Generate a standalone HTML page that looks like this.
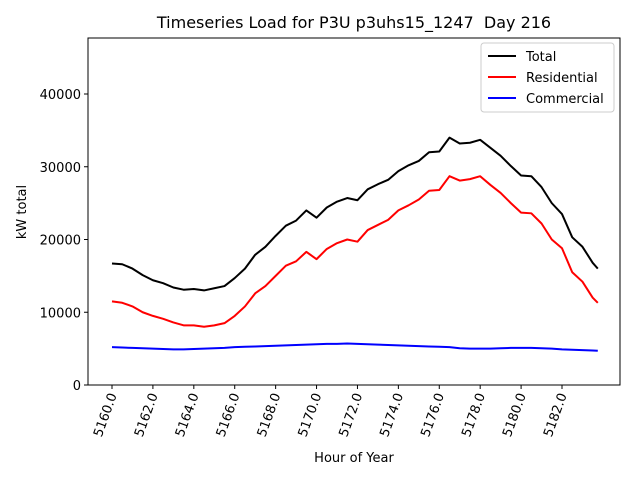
<!DOCTYPE html>
<html><head><meta charset="utf-8"><style>
body{margin:0;background:#fff}
svg{font-family:"DejaVu Sans","Liberation Sans",sans-serif}
</style></head><body>
<svg id="chart" width="640" height="480" xmlns="http://www.w3.org/2000/svg">
<rect width="640" height="480" fill="#fff"/>
<text x="354" y="28" font-size="16" text-anchor="middle">Timeseries Load for P3U p3uhs15_1247 &#160;Day 216</text>
<g id="plot"></g>
<rect x="88" y="38" width="532" height="347" fill="none" stroke="#000" stroke-width="1"/>
<text x="354" y="462" font-size="13" text-anchor="middle">Hour of Year</text>
<text transform="translate(26,212) rotate(-90)" font-size="13" text-anchor="middle">kW total</text>
<g>
<rect x="481" y="43" width="133" height="69" fill="#fff" stroke="#ccc" rx="3"/>
<line x1="488" y1="56" x2="516" y2="56" stroke="#000" stroke-width="2"/>
<text x="526" y="61" font-size="13">Total</text>
<line x1="488" y1="77" x2="516" y2="77" stroke="#f00" stroke-width="2"/>
<text x="526" y="82" font-size="13">Residential</text>
<line x1="488" y1="98" x2="516" y2="98" stroke="#00f" stroke-width="2"/>
<text x="526" y="103" font-size="13">Commercial</text>
</g>
</svg>
<script>
const hours=[5160,5160.5,5161,5161.5,5162,5162.5,5163,5163.5,5164,5164.5,5165,5165.5,5166,5166.5,5167,5167.5,5168,5168.5,5169,5169.5,5170,5170.5,5171,5171.5,5172,5172.5,5173,5173.5,5174,5174.5,5175,5175.5,5176,5176.5,5177,5177.5,5178,5178.5,5179,5179.5,5180,5180.5,5181,5181.5,5182,5182.5,5183,5183.5,5183.75];
const residential=[11500,11300,10800,10000,9500,9100,8600,8200,8200,8000,8200,8500,9500,10800,12600,13600,15000,16400,17000,18300,17300,18700,19500,20000,19700,21300,22000,22700,24000,24700,25500,26700,26800,28700,28100,28300,28700,27500,26400,25000,23700,23600,22200,20000,18800,15500,14200,12000,11300];
const commercial=[5200,5150,5100,5050,5000,4950,4900,4900,4950,5000,5050,5100,5200,5250,5300,5350,5400,5450,5500,5550,5600,5650,5650,5700,5650,5600,5550,5500,5450,5400,5350,5300,5250,5200,5050,5000,5000,5000,5050,5100,5100,5100,5050,5000,4900,4850,4800,4750,4700];
const total=[16700,16600,16000,15100,14400,14000,13400,13100,13200,13000,13300,13600,14700,16000,17900,19000,20500,21900,22600,24000,23000,24400,25200,25700,25400,26900,27600,28200,29400,30200,30800,32000,32100,34000,33200,33300,33700,32600,31500,30100,28800,28700,27200,25000,23500,20300,19000,16800,16000];
const yTicks=[0,10000,20000,30000,40000];
const xTicks=[5160,5162,5164,5166,5168,5170,5172,5174,5176,5178,5180,5182];
const NS="http://www.w3.org/2000/svg";
const X=h=>112+(h-5160)*450/22;
const Y=v=>385-v*72.75/10000;
const g=document.getElementById('plot');
function mk(t,a){const e=document.createElementNS(NS,t);for(const k in a)e.setAttribute(k,a[k]);g.appendChild(e);return e;}
yTicks.forEach(v=>{
  const l=mk('line',{x1:84,x2:88,y1:Y(v),y2:Y(v),stroke:'#000'});
  
  
  const t=mk('text',{x:81,y:Y(v)+5,'font-size':13,'text-anchor':'end'});
  
  
  t.textContent=v;
});
xTicks.forEach(h=>{
  const x=X(h);
  const l=mk('line',{x1:x,x2:x,y1:385,y2:389,stroke:'#000'});
  
  
  const t=mk('text',{x:x+5,y:395,'font-size':13,'text-anchor':'end',transform:`rotate(-70 ${x+5} 395)`});
  
  
  t.textContent=h.toFixed(1);
});
function line(arr,color,name){
  const p=mk('polyline',{points:arr.map((v,i)=>X(hours[i])+','+Y(v)).join(' '),fill:'none',stroke:color,'stroke-width':2,'stroke-linejoin':'round'});
  
  
}
line(total,'#000','total-line');
line(residential,'#f00','residential-line');
line(commercial,'#00f','commercial-line');
</script>
</body></html>
